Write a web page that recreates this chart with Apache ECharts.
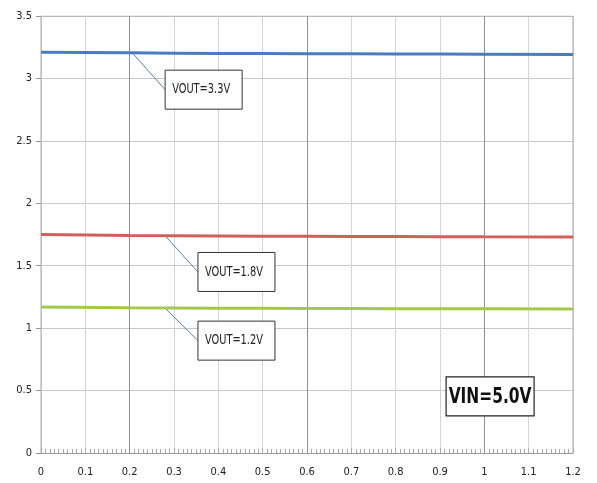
<!DOCTYPE html>
<html><head><meta charset="utf-8">
<script src="https://cdn.jsdelivr.net/npm/echarts@6/dist/echarts.min.js"></script>
<style>html,body{margin:0;padding:0;background:#fff}#c{width:597px;height:483px}</style>
</head><body><div id="c"></div>
<script>
const xValues = [0, 0.2, 0.4, 0.6, 0.8, 1.0, 1.2];
const vout33 = [3.21, 3.205, 3.2, 3.198, 3.196, 3.194, 3.192];
const vout18 = [1.75, 1.742, 1.738, 1.735, 1.733, 1.731, 1.73];
const vout12 = [1.17, 1.163, 1.16, 1.158, 1.156, 1.155, 1.154];
const xTicks = ['0','0.1','0.2','0.3','0.4','0.5','0.6','0.7','0.8','0.9','1','1.1','1.2'];
const yTicks = ['0','0.5','1','1.5','2','2.5','3','3.5'];
const labels = ['VOUT=3.3V','VOUT=1.8V','VOUT=1.2V'];
const darkX = [0.2, 0.6, 1.0];

const chart = echarts.init(document.getElementById('c'));
const pair = a => xValues.map((x,i)=>[x,a[i]]);
const axFont = 'DejaVu Sans Condensed, Liberation Sans Narrow, sans-serif';
chart.setOption({
  animation:false,
  grid:{left:41,right:24,top:16,bottom:30},
  xAxis:{type:'value',min:0,max:1.2,interval:0.1,
    axisLine:{onZero:true,lineStyle:{color:'#999',width:1}},
    axisTick:{show:true,inside:true,length:5,lineStyle:{color:'#aaa'}},
    minorTick:{show:true,splitNumber:10,length:4,lineStyle:{color:'#aaa'}},
    splitLine:{show:true,lineStyle:{color:'#d4d4d4',width:1}},
    axisLabel:{color:'#222',fontSize:11,fontFamily:axFont,margin:14,
      formatter:v=>xTicks[Math.round(v*10)]}},
  yAxis:{type:'value',min:0,max:3.5,interval:0.5,
    axisLine:{show:false},
    axisTick:{show:true,length:5,lineStyle:{color:'#999'}},
    splitLine:{show:true,lineStyle:{color:'#c8c8c8',width:1}},
    axisLabel:{color:'#222',fontSize:11,fontFamily:axFont,margin:9,
      formatter:v=>yTicks[Math.round(v*2)]}},
  series:[
    {type:'line',data:pair(vout33),showSymbol:false,smooth:true,lineStyle:{color:'#4a7cc0',width:3},z:5,
      markLine:{silent:true,symbol:'none',label:{show:false},lineStyle:{color:'#909090',type:'solid',width:1},
        data:darkX.map(x=>({xAxis:x}))}},
    {type:'line',data:pair(vout18),showSymbol:false,smooth:true,lineStyle:{color:'#d0605c',width:3},z:5},
    {type:'line',data:pair(vout12),showSymbol:false,smooth:true,lineStyle:{color:'#a4c84a',width:3},z:5},
    {type:'line',data:[[0,3.5],[1.2,3.5]],showSymbol:false,lineStyle:{color:'#aaa',width:1},silent:true,z:1},
    {type:'line',data:[[1.2,0],[1.2,3.5]],showSymbol:false,lineStyle:{color:'#aaa',width:1},silent:true,z:1},
    {type:'line',data:[[0,0],[0,3.5]],showSymbol:false,lineStyle:{color:'#aaa',width:1},silent:true,z:1}
  ]
});

function addAnnotations(){
  const p = (x,y)=>chart.convertToPixel({gridIndex:0},[x,y]);
  const anchors = [[0.208,vout33[1]],[0.282,1.74],[0.282,1.16]];
  const boxes = [[0.28,2.91],[0.354,1.45],[0.354,0.9]];
  const els = [];
  anchors.forEach((a,i)=>{
    const s = p(a[0],a[1]);
    const b = p(boxes[i][0],boxes[i][1]);
    const w = 77, h = 39;
    els.push({type:'line',shape:{x1:s[0],y1:s[1]+1,x2:b[0],y2:b[1]},style:{stroke:'#5a7fa0',lineWidth:1},z:20});
    els.push({type:'rect',shape:{x:b[0],y:b[1]-h/2,width:w,height:h},style:{fill:'#fff',stroke:'#333',lineWidth:1},z:20});
    els.push({type:'text',x:b[0]+7,y:b[1],scaleX:0.78,style:{text:labels[i],fill:'#222',font:'14px "DejaVu Sans Condensed",sans-serif',verticalAlign:'middle'},z:21});
  });
  const v = p(1.013,0.453);
  els.push({type:'rect',shape:{x:v[0]-44,y:v[1]-19.5,width:88,height:39},style:{fill:'#fff',stroke:'#222',lineWidth:1.2},z:20});
  els.push({type:'text',x:v[0],y:v[1]+1,scaleX:0.78,style:{text:'VIN=5.0V',fill:'#111',font:'bold 22px "DejaVu Sans Condensed",sans-serif',align:'center',verticalAlign:'middle'},z:21});
  chart.setOption({graphic:els});
}
addAnnotations();
</script></body></html>
